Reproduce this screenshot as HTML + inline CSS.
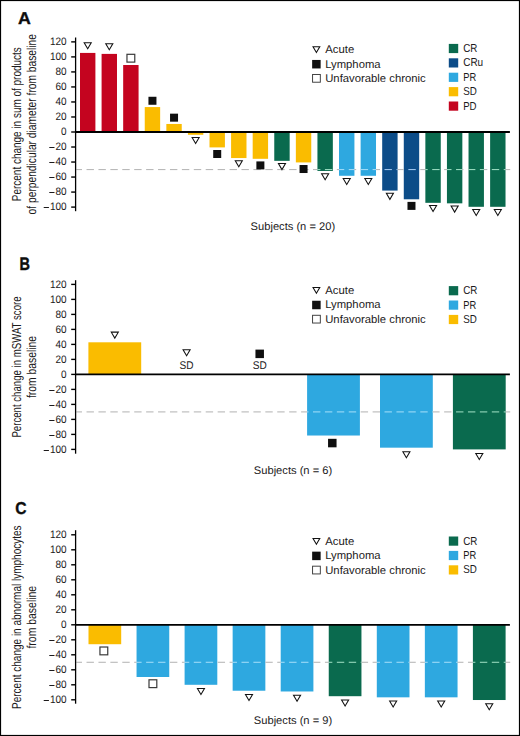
<!DOCTYPE html><html><head><meta charset="utf-8"><style>html,body{margin:0;padding:0;background:#fff}svg{display:block}</style></head><body>
<svg width="520" height="736" viewBox="0 0 520 736" font-family='"Liberation Sans", sans-serif' text-rendering="geometricPrecision">
<rect x="0" y="0" width="520" height="736" fill="#fff"/>
<text transform="translate(18.03,23.82) scale(1.040,1)" x="0" y="0" font-size="17.1" font-weight="bold" fill="#0d0d0d" stroke="#0d0d0d" stroke-width="0.34">A</text>
<rect x="80.00" y="52.92" width="15.4" height="79.08" fill="#c4041f"/>
<rect x="101.59" y="53.90" width="15.4" height="78.10" fill="#c4041f"/>
<rect x="123.17" y="65.01" width="15.4" height="66.99" fill="#c4041f"/>
<rect x="144.75" y="107.07" width="15.4" height="24.93" fill="#fabc00"/>
<rect x="166.34" y="123.96" width="15.4" height="8.04" fill="#fabc00"/>
<rect x="187.93" y="132.00" width="15.4" height="2.78" fill="#fabc00"/>
<rect x="209.51" y="132.00" width="15.4" height="15.40" fill="#fabc00"/>
<rect x="231.09" y="132.00" width="15.4" height="26.06" fill="#fabc00"/>
<rect x="252.68" y="132.00" width="15.4" height="26.81" fill="#fabc00"/>
<rect x="274.26" y="132.00" width="15.4" height="28.84" fill="#0a6a4e"/>
<rect x="295.85" y="132.00" width="15.4" height="30.42" fill="#fabc00"/>
<rect x="317.44" y="132.00" width="15.4" height="38.98" fill="#0a6a4e"/>
<rect x="339.02" y="132.00" width="15.4" height="43.78" fill="#2ea8e0"/>
<rect x="360.61" y="132.00" width="15.4" height="43.78" fill="#2ea8e0"/>
<rect x="382.19" y="132.00" width="15.4" height="58.58" fill="#0c4c88"/>
<rect x="403.78" y="132.00" width="15.4" height="67.29" fill="#0c4c88"/>
<rect x="425.36" y="132.00" width="15.4" height="70.82" fill="#0a6a4e"/>
<rect x="446.94" y="132.00" width="15.4" height="71.34" fill="#0a6a4e"/>
<rect x="468.53" y="132.00" width="15.4" height="74.80" fill="#0a6a4e"/>
<rect x="490.12" y="132.00" width="15.4" height="74.80" fill="#0a6a4e"/>
<line x1="75" y1="132.00" x2="509.9" y2="132.00" stroke="#000" stroke-width="1.85"/>
<rect x="76.30" y="169.00" width="5.70" height="1.1" fill="#b9b9b9"/>
<rect x="86.52" y="169.00" width="7.40" height="1.1" fill="#b9b9b9"/>
<rect x="98.44" y="169.00" width="7.40" height="1.1" fill="#b9b9b9"/>
<rect x="110.36" y="169.00" width="7.40" height="1.1" fill="#b9b9b9"/>
<rect x="122.28" y="169.00" width="7.40" height="1.1" fill="#b9b9b9"/>
<rect x="134.20" y="169.00" width="7.40" height="1.1" fill="#b9b9b9"/>
<rect x="146.12" y="169.00" width="7.40" height="1.1" fill="#b9b9b9"/>
<rect x="158.04" y="169.00" width="7.40" height="1.1" fill="#b9b9b9"/>
<rect x="169.96" y="169.00" width="7.40" height="1.1" fill="#b9b9b9"/>
<rect x="181.88" y="169.00" width="7.40" height="1.1" fill="#b9b9b9"/>
<rect x="193.80" y="169.00" width="7.40" height="1.1" fill="#b9b9b9"/>
<rect x="205.72" y="169.00" width="7.40" height="1.1" fill="#b9b9b9"/>
<rect x="217.64" y="169.00" width="7.40" height="1.1" fill="#b9b9b9"/>
<rect x="229.56" y="169.00" width="7.40" height="1.1" fill="#b9b9b9"/>
<rect x="241.48" y="169.00" width="7.40" height="1.1" fill="#b9b9b9"/>
<rect x="253.40" y="169.00" width="7.40" height="1.1" fill="#b9b9b9"/>
<rect x="265.32" y="169.00" width="7.40" height="1.1" fill="#b9b9b9"/>
<rect x="277.24" y="169.00" width="7.40" height="1.1" fill="#b9b9b9"/>
<rect x="289.16" y="169.00" width="7.40" height="1.1" fill="#b9b9b9"/>
<rect x="301.08" y="169.00" width="7.40" height="1.1" fill="#b9b9b9"/>
<rect x="313.00" y="169.00" width="4.44" height="1.1" fill="#b9b9b9"/>
<rect x="317.44" y="169.00" width="2.96" height="1.1" fill="#95d8bc"/>
<rect x="324.92" y="169.00" width="7.40" height="1.1" fill="#95d8bc"/>
<rect x="336.84" y="169.00" width="2.18" height="1.1" fill="#b9b9b9"/>
<rect x="339.02" y="169.00" width="5.22" height="1.1" fill="#9cdaf7"/>
<rect x="348.76" y="169.00" width="5.66" height="1.1" fill="#9cdaf7"/>
<rect x="354.42" y="169.00" width="1.74" height="1.1" fill="#b9b9b9"/>
<rect x="360.68" y="169.00" width="7.40" height="1.1" fill="#9cdaf7"/>
<rect x="372.60" y="169.00" width="3.40" height="1.1" fill="#9cdaf7"/>
<rect x="376.00" y="169.00" width="4.00" height="1.1" fill="#b9b9b9"/>
<rect x="384.52" y="169.00" width="7.40" height="1.1" fill="#9cc2ec"/>
<rect x="396.44" y="169.00" width="1.15" height="1.1" fill="#9cc2ec"/>
<rect x="397.59" y="169.00" width="6.19" height="1.1" fill="#b9b9b9"/>
<rect x="403.78" y="169.00" width="0.06" height="1.1" fill="#9cc2ec"/>
<rect x="408.36" y="169.00" width="7.40" height="1.1" fill="#9cc2ec"/>
<rect x="420.28" y="169.00" width="5.08" height="1.1" fill="#b9b9b9"/>
<rect x="425.36" y="169.00" width="2.32" height="1.1" fill="#95d8bc"/>
<rect x="432.20" y="169.00" width="7.40" height="1.1" fill="#95d8bc"/>
<rect x="444.12" y="169.00" width="2.82" height="1.1" fill="#b9b9b9"/>
<rect x="446.94" y="169.00" width="4.57" height="1.1" fill="#95d8bc"/>
<rect x="456.04" y="169.00" width="6.31" height="1.1" fill="#95d8bc"/>
<rect x="462.34" y="169.00" width="1.09" height="1.1" fill="#b9b9b9"/>
<rect x="467.96" y="169.00" width="0.57" height="1.1" fill="#b9b9b9"/>
<rect x="468.53" y="169.00" width="6.83" height="1.1" fill="#95d8bc"/>
<rect x="479.88" y="169.00" width="4.05" height="1.1" fill="#95d8bc"/>
<rect x="483.93" y="169.00" width="3.35" height="1.1" fill="#b9b9b9"/>
<rect x="491.80" y="169.00" width="7.40" height="1.1" fill="#95d8bc"/>
<rect x="503.72" y="169.00" width="1.79" height="1.1" fill="#95d8bc"/>
<rect x="505.51" y="169.00" width="4.69" height="1.1" fill="#b9b9b9"/>
<path d="M83.25,42.22L92.15,42.22L87.70,49.82Z" fill="#fff"/>
<path d="M83.25,42.22L92.15,42.22L87.70,49.82Z M85.08,43.27L87.70,47.74L90.32,43.27Z" fill="#111" fill-rule="evenodd"/>
<path d="M104.84,43.20L113.74,43.20L109.29,50.80Z" fill="#fff"/>
<path d="M104.84,43.20L113.74,43.20L109.29,50.80Z M106.67,44.25L109.29,48.72L111.90,44.25Z" fill="#111" fill-rule="evenodd"/>
<rect x="126.97" y="54.31" width="7.80" height="7.80" fill="#fff" stroke="#3a3a3a" stroke-width="1.2"/>
<rect x="148.45" y="96.77" width="8.0" height="8.0" fill="#0f0f0f"/>
<rect x="170.04" y="113.66" width="8.0" height="8.0" fill="#0f0f0f"/>
<path d="M191.18,136.98L200.07,136.98L195.62,144.58Z" fill="#fff"/>
<path d="M191.18,136.98L200.07,136.98L195.62,144.58Z M193.01,138.03L195.62,142.50L198.24,138.03Z" fill="#111" fill-rule="evenodd"/>
<rect x="213.21" y="150.00" width="8.0" height="8.0" fill="#0f0f0f"/>
<path d="M234.34,160.26L243.24,160.26L238.79,167.86Z" fill="#fff"/>
<path d="M234.34,160.26L243.24,160.26L238.79,167.86Z M236.18,161.31L238.79,165.78L241.41,161.31Z" fill="#111" fill-rule="evenodd"/>
<rect x="256.38" y="161.41" width="8.0" height="8.0" fill="#0f0f0f"/>
<path d="M277.51,163.04L286.41,163.04L281.96,170.64Z" fill="#fff"/>
<path d="M277.51,163.04L286.41,163.04L281.96,170.64Z M279.35,164.09L281.96,168.56L284.58,164.09Z" fill="#111" fill-rule="evenodd"/>
<rect x="299.55" y="165.02" width="8.0" height="8.0" fill="#0f0f0f"/>
<path d="M320.69,173.18L329.58,173.18L325.13,180.78Z" fill="#fff"/>
<path d="M320.69,173.18L329.58,173.18L325.13,180.78Z M322.52,174.23L325.13,178.70L327.75,174.23Z" fill="#111" fill-rule="evenodd"/>
<path d="M342.27,177.98L351.17,177.98L346.72,185.58Z" fill="#fff"/>
<path d="M342.27,177.98L351.17,177.98L346.72,185.58Z M344.10,179.03L346.72,183.51L349.34,179.03Z" fill="#111" fill-rule="evenodd"/>
<path d="M363.86,177.98L372.75,177.98L368.31,185.58Z" fill="#fff"/>
<path d="M363.86,177.98L372.75,177.98L368.31,185.58Z M365.69,179.03L368.31,183.51L370.92,179.03Z" fill="#111" fill-rule="evenodd"/>
<path d="M385.44,192.78L394.34,192.78L389.89,200.38Z" fill="#fff"/>
<path d="M385.44,192.78L394.34,192.78L389.89,200.38Z M387.27,193.83L389.89,198.30L392.51,193.83Z" fill="#111" fill-rule="evenodd"/>
<rect x="407.48" y="201.89" width="8.0" height="8.0" fill="#0f0f0f"/>
<path d="M428.61,205.02L437.51,205.02L433.06,212.62Z" fill="#fff"/>
<path d="M428.61,205.02L437.51,205.02L433.06,212.62Z M430.44,206.07L433.06,210.54L435.68,206.07Z" fill="#111" fill-rule="evenodd"/>
<path d="M450.19,205.54L459.09,205.54L454.64,213.14Z" fill="#fff"/>
<path d="M450.19,205.54L459.09,205.54L454.64,213.14Z M452.03,206.59L454.64,211.07L457.26,206.59Z" fill="#111" fill-rule="evenodd"/>
<path d="M471.78,209.00L480.68,209.00L476.23,216.60Z" fill="#fff"/>
<path d="M471.78,209.00L480.68,209.00L476.23,216.60Z M473.61,210.05L476.23,214.52L478.85,210.05Z" fill="#111" fill-rule="evenodd"/>
<path d="M493.37,209.00L502.26,209.00L497.81,216.60Z" fill="#fff"/>
<path d="M493.37,209.00L502.26,209.00L497.81,216.60Z M495.20,210.05L497.81,214.52L500.43,210.05Z" fill="#111" fill-rule="evenodd"/>
<text x="49.92" y="45.18" font-size="10.8" font-weight="normal" fill="#1c1a1b" textLength="16.68" lengthAdjust="spacingAndGlyphs">120</text>
<line x1="71.2" y1="41.88" x2="75.6" y2="41.88" stroke="#000" stroke-width="1.4"/>
<text x="49.92" y="60.20" font-size="10.8" font-weight="normal" fill="#1c1a1b" textLength="16.68" lengthAdjust="spacingAndGlyphs">100</text>
<line x1="71.2" y1="56.90" x2="75.6" y2="56.90" stroke="#000" stroke-width="1.4"/>
<text x="55.48" y="75.22" font-size="10.8" font-weight="normal" fill="#1c1a1b" textLength="11.12" lengthAdjust="spacingAndGlyphs">80</text>
<line x1="71.2" y1="71.92" x2="75.6" y2="71.92" stroke="#000" stroke-width="1.4"/>
<text x="55.48" y="90.24" font-size="10.8" font-weight="normal" fill="#1c1a1b" textLength="11.12" lengthAdjust="spacingAndGlyphs">60</text>
<line x1="71.2" y1="86.94" x2="75.6" y2="86.94" stroke="#000" stroke-width="1.4"/>
<text x="55.48" y="105.26" font-size="10.8" font-weight="normal" fill="#1c1a1b" textLength="11.12" lengthAdjust="spacingAndGlyphs">40</text>
<line x1="71.2" y1="101.96" x2="75.6" y2="101.96" stroke="#000" stroke-width="1.4"/>
<text x="55.48" y="120.28" font-size="10.8" font-weight="normal" fill="#1c1a1b" textLength="11.12" lengthAdjust="spacingAndGlyphs">20</text>
<line x1="71.2" y1="116.98" x2="75.6" y2="116.98" stroke="#000" stroke-width="1.4"/>
<text x="61.04" y="135.30" font-size="10.8" font-weight="normal" fill="#1c1a1b" textLength="5.56" lengthAdjust="spacingAndGlyphs">0</text>
<line x1="71.2" y1="132.00" x2="75.6" y2="132.00" stroke="#000" stroke-width="1.4"/>
<text x="55.48" y="150.32" font-size="10.8" font-weight="normal" fill="#1c1a1b" textLength="11.12" lengthAdjust="spacingAndGlyphs">20</text>
<rect x="49.28" y="147.00" width="5.2" height="1.0" fill="#1c1a1b"/>
<line x1="71.2" y1="147.02" x2="75.6" y2="147.02" stroke="#000" stroke-width="1.4"/>
<text x="55.48" y="165.34" font-size="10.8" font-weight="normal" fill="#1c1a1b" textLength="11.12" lengthAdjust="spacingAndGlyphs">40</text>
<rect x="49.28" y="162.00" width="5.2" height="1.0" fill="#1c1a1b"/>
<line x1="71.2" y1="162.04" x2="75.6" y2="162.04" stroke="#000" stroke-width="1.4"/>
<text x="55.48" y="180.36" font-size="10.8" font-weight="normal" fill="#1c1a1b" textLength="11.12" lengthAdjust="spacingAndGlyphs">60</text>
<rect x="49.28" y="177.00" width="5.2" height="1.0" fill="#1c1a1b"/>
<line x1="71.2" y1="177.06" x2="75.6" y2="177.06" stroke="#000" stroke-width="1.4"/>
<text x="55.48" y="195.38" font-size="10.8" font-weight="normal" fill="#1c1a1b" textLength="11.12" lengthAdjust="spacingAndGlyphs">80</text>
<rect x="49.28" y="192.00" width="5.2" height="1.0" fill="#1c1a1b"/>
<line x1="71.2" y1="192.08" x2="75.6" y2="192.08" stroke="#000" stroke-width="1.4"/>
<text x="49.92" y="210.40" font-size="10.8" font-weight="normal" fill="#1c1a1b" textLength="16.68" lengthAdjust="spacingAndGlyphs">100</text>
<rect x="43.72" y="207.00" width="5.2" height="1.0" fill="#1c1a1b"/>
<line x1="71.2" y1="207.10" x2="75.6" y2="207.10" stroke="#000" stroke-width="1.4"/>
<line x1="75.6" y1="37.5" x2="75.6" y2="211.2" stroke="#000" stroke-width="1.3"/>
<g transform="translate(20.60,124.20) rotate(-90)">
<text x="-77.00" y="0.00" font-size="13.0" font-weight="normal" fill="#1c1a1b" textLength="154.00" lengthAdjust="spacingAndGlyphs">Percent change in sum of products</text>
</g>
<g transform="translate(36.10,124.20) rotate(-90)">
<text x="-90.20" y="0.00" font-size="13.0" font-weight="normal" fill="#1c1a1b" textLength="180.40" lengthAdjust="spacingAndGlyphs">of perpendicular diameter from baseline</text>
</g>
<path d="M312.10,46.20L320.70,46.20L316.40,53.50Z" fill="#fff"/>
<path d="M312.10,46.20L320.70,46.20L316.40,53.50Z M313.94,47.25L316.40,51.43L318.86,47.25Z" fill="#111" fill-rule="evenodd"/>
<text x="325.20" y="53.20" font-size="11.2" font-weight="normal" fill="#1c1a1b" textLength="29.00" lengthAdjust="spacingAndGlyphs">Acute</text>
<rect x="312.15" y="59.95" width="8.5" height="8.5" fill="#0f0f0f"/>
<text x="325.20" y="67.55" font-size="11.2" font-weight="normal" fill="#1c1a1b" textLength="55.40" lengthAdjust="spacingAndGlyphs">Lymphoma</text>
<rect x="312.57" y="74.47" width="7.75" height="7.75" fill="#fff" stroke="#3a3a3a" stroke-width="0.95"/>
<text x="325.20" y="81.90" font-size="11.2" font-weight="normal" fill="#1c1a1b" textLength="100.50" lengthAdjust="spacingAndGlyphs">Unfavorable chronic</text>
<rect x="448.8" y="43.90" width="9.4" height="9.2" fill="#0a6a4e"/>
<text x="463.20" y="51.90" font-size="11.5" font-weight="normal" fill="#1c1a1b" textLength="14.20" lengthAdjust="spacingAndGlyphs">CR</text>
<rect x="448.8" y="58.30" width="9.4" height="9.2" fill="#0c4c88"/>
<text x="463.20" y="66.30" font-size="11.5" font-weight="normal" fill="#1c1a1b" textLength="20.00" lengthAdjust="spacingAndGlyphs">CRu</text>
<rect x="448.8" y="72.70" width="9.4" height="9.2" fill="#2ea8e0"/>
<text x="463.20" y="80.70" font-size="11.5" font-weight="normal" fill="#1c1a1b" textLength="13.00" lengthAdjust="spacingAndGlyphs">PR</text>
<rect x="448.8" y="87.10" width="9.4" height="9.2" fill="#fabc00"/>
<text x="463.20" y="95.10" font-size="11.5" font-weight="normal" fill="#1c1a1b" textLength="13.60" lengthAdjust="spacingAndGlyphs">SD</text>
<rect x="448.8" y="101.50" width="9.4" height="9.2" fill="#c4041f"/>
<text x="463.20" y="109.50" font-size="11.5" font-weight="normal" fill="#1c1a1b" textLength="13.40" lengthAdjust="spacingAndGlyphs">PD</text>
<text x="250.60" y="229.80" font-size="11.0" font-weight="normal" fill="#1c1a1b" textLength="84.50" lengthAdjust="spacingAndGlyphs">Subjects (n = 20)</text>
<text transform="translate(19.40,270.22) scale(0.800,1)" x="0" y="0" font-size="18.1" font-weight="bold" fill="#0d0d0d" stroke="#0d0d0d" stroke-width="0.44">B</text>
<rect x="88.40" y="342.30" width="52.8" height="32.10" fill="#fabc00"/>
<text x="179.60" y="368.50" font-size="11.2" font-weight="normal" fill="#1c1a1b" textLength="14.00" lengthAdjust="spacingAndGlyphs">SD</text>
<text x="252.70" y="368.50" font-size="11.2" font-weight="normal" fill="#1c1a1b" textLength="14.00" lengthAdjust="spacingAndGlyphs">SD</text>
<rect x="307.10" y="374.40" width="52.8" height="61.12" fill="#2ea8e0"/>
<rect x="380.00" y="374.40" width="52.8" height="73.28" fill="#2ea8e0"/>
<rect x="452.90" y="374.40" width="52.8" height="75.00" fill="#0a6a4e"/>
<line x1="75" y1="374.40" x2="509.9" y2="374.40" stroke="#000" stroke-width="1.85"/>
<rect x="76.30" y="411.35" width="5.70" height="1.1" fill="#b9b9b9"/>
<rect x="86.52" y="411.35" width="7.40" height="1.1" fill="#b9b9b9"/>
<rect x="98.44" y="411.35" width="7.40" height="1.1" fill="#b9b9b9"/>
<rect x="110.36" y="411.35" width="7.40" height="1.1" fill="#b9b9b9"/>
<rect x="122.28" y="411.35" width="7.40" height="1.1" fill="#b9b9b9"/>
<rect x="134.20" y="411.35" width="7.40" height="1.1" fill="#b9b9b9"/>
<rect x="146.12" y="411.35" width="7.40" height="1.1" fill="#b9b9b9"/>
<rect x="158.04" y="411.35" width="7.40" height="1.1" fill="#b9b9b9"/>
<rect x="169.96" y="411.35" width="7.40" height="1.1" fill="#b9b9b9"/>
<rect x="181.88" y="411.35" width="7.40" height="1.1" fill="#b9b9b9"/>
<rect x="193.80" y="411.35" width="7.40" height="1.1" fill="#b9b9b9"/>
<rect x="205.72" y="411.35" width="7.40" height="1.1" fill="#b9b9b9"/>
<rect x="217.64" y="411.35" width="7.40" height="1.1" fill="#b9b9b9"/>
<rect x="229.56" y="411.35" width="7.40" height="1.1" fill="#b9b9b9"/>
<rect x="241.48" y="411.35" width="7.40" height="1.1" fill="#b9b9b9"/>
<rect x="253.40" y="411.35" width="7.40" height="1.1" fill="#b9b9b9"/>
<rect x="265.32" y="411.35" width="7.40" height="1.1" fill="#b9b9b9"/>
<rect x="277.24" y="411.35" width="7.40" height="1.1" fill="#b9b9b9"/>
<rect x="289.16" y="411.35" width="7.40" height="1.1" fill="#b9b9b9"/>
<rect x="301.08" y="411.35" width="6.02" height="1.1" fill="#b9b9b9"/>
<rect x="307.10" y="411.35" width="1.38" height="1.1" fill="#9cdaf7"/>
<rect x="313.00" y="411.35" width="7.40" height="1.1" fill="#9cdaf7"/>
<rect x="324.92" y="411.35" width="7.40" height="1.1" fill="#9cdaf7"/>
<rect x="336.84" y="411.35" width="7.40" height="1.1" fill="#9cdaf7"/>
<rect x="348.76" y="411.35" width="7.40" height="1.1" fill="#9cdaf7"/>
<rect x="360.68" y="411.35" width="7.40" height="1.1" fill="#b9b9b9"/>
<rect x="372.60" y="411.35" width="7.40" height="1.1" fill="#b9b9b9"/>
<rect x="384.52" y="411.35" width="7.40" height="1.1" fill="#9cdaf7"/>
<rect x="396.44" y="411.35" width="7.40" height="1.1" fill="#9cdaf7"/>
<rect x="408.36" y="411.35" width="7.40" height="1.1" fill="#9cdaf7"/>
<rect x="420.28" y="411.35" width="7.40" height="1.1" fill="#9cdaf7"/>
<rect x="432.20" y="411.35" width="0.60" height="1.1" fill="#9cdaf7"/>
<rect x="432.80" y="411.35" width="6.80" height="1.1" fill="#b9b9b9"/>
<rect x="444.12" y="411.35" width="7.40" height="1.1" fill="#b9b9b9"/>
<rect x="456.04" y="411.35" width="7.40" height="1.1" fill="#95d8bc"/>
<rect x="467.96" y="411.35" width="7.40" height="1.1" fill="#95d8bc"/>
<rect x="479.88" y="411.35" width="7.40" height="1.1" fill="#95d8bc"/>
<rect x="491.80" y="411.35" width="7.40" height="1.1" fill="#95d8bc"/>
<rect x="503.72" y="411.35" width="1.98" height="1.1" fill="#95d8bc"/>
<rect x="505.70" y="411.35" width="4.50" height="1.1" fill="#b9b9b9"/>
<path d="M110.35,331.60L119.25,331.60L114.80,339.20Z" fill="#fff"/>
<path d="M110.35,331.60L119.25,331.60L114.80,339.20Z M112.18,332.65L114.80,337.12L117.42,332.65Z" fill="#111" fill-rule="evenodd"/>
<path d="M182.15,349.20L191.05,349.20L186.60,356.80Z" fill="#fff"/>
<path d="M182.15,349.20L191.05,349.20L186.60,356.80Z M183.98,350.25L186.60,354.72L189.22,350.25Z" fill="#111" fill-rule="evenodd"/>
<rect x="255.45" y="349.60" width="8.5" height="8.5" fill="#0f0f0f"/>
<rect x="328.05" y="438.82" width="8.5" height="8.5" fill="#0f0f0f"/>
<path d="M401.95,451.17L410.85,451.17L406.40,458.77Z" fill="#fff"/>
<path d="M401.95,451.17L410.85,451.17L406.40,458.77Z M403.78,452.22L406.40,456.70L409.02,452.22Z" fill="#111" fill-rule="evenodd"/>
<path d="M474.85,452.90L483.75,452.90L479.30,460.50Z" fill="#fff"/>
<path d="M474.85,452.90L483.75,452.90L479.30,460.50Z M476.68,453.95L479.30,458.42L481.92,453.95Z" fill="#111" fill-rule="evenodd"/>
<text x="49.92" y="287.70" font-size="10.8" font-weight="normal" fill="#1c1a1b" textLength="16.68" lengthAdjust="spacingAndGlyphs">120</text>
<line x1="71.2" y1="284.40" x2="75.6" y2="284.40" stroke="#000" stroke-width="1.4"/>
<text x="49.92" y="302.70" font-size="10.8" font-weight="normal" fill="#1c1a1b" textLength="16.68" lengthAdjust="spacingAndGlyphs">100</text>
<line x1="71.2" y1="299.40" x2="75.6" y2="299.40" stroke="#000" stroke-width="1.4"/>
<text x="55.48" y="317.70" font-size="10.8" font-weight="normal" fill="#1c1a1b" textLength="11.12" lengthAdjust="spacingAndGlyphs">80</text>
<line x1="71.2" y1="314.40" x2="75.6" y2="314.40" stroke="#000" stroke-width="1.4"/>
<text x="55.48" y="332.70" font-size="10.8" font-weight="normal" fill="#1c1a1b" textLength="11.12" lengthAdjust="spacingAndGlyphs">60</text>
<line x1="71.2" y1="329.40" x2="75.6" y2="329.40" stroke="#000" stroke-width="1.4"/>
<text x="55.48" y="347.70" font-size="10.8" font-weight="normal" fill="#1c1a1b" textLength="11.12" lengthAdjust="spacingAndGlyphs">40</text>
<line x1="71.2" y1="344.40" x2="75.6" y2="344.40" stroke="#000" stroke-width="1.4"/>
<text x="55.48" y="362.70" font-size="10.8" font-weight="normal" fill="#1c1a1b" textLength="11.12" lengthAdjust="spacingAndGlyphs">20</text>
<line x1="71.2" y1="359.40" x2="75.6" y2="359.40" stroke="#000" stroke-width="1.4"/>
<text x="61.04" y="377.70" font-size="10.8" font-weight="normal" fill="#1c1a1b" textLength="5.56" lengthAdjust="spacingAndGlyphs">0</text>
<line x1="71.2" y1="374.40" x2="75.6" y2="374.40" stroke="#000" stroke-width="1.4"/>
<text x="55.48" y="392.70" font-size="10.8" font-weight="normal" fill="#1c1a1b" textLength="11.12" lengthAdjust="spacingAndGlyphs">20</text>
<rect x="49.28" y="390.00" width="5.2" height="1.0" fill="#1c1a1b"/>
<line x1="71.2" y1="389.40" x2="75.6" y2="389.40" stroke="#000" stroke-width="1.4"/>
<text x="55.48" y="407.70" font-size="10.8" font-weight="normal" fill="#1c1a1b" textLength="11.12" lengthAdjust="spacingAndGlyphs">40</text>
<rect x="49.28" y="405.00" width="5.2" height="1.0" fill="#1c1a1b"/>
<line x1="71.2" y1="404.40" x2="75.6" y2="404.40" stroke="#000" stroke-width="1.4"/>
<text x="55.48" y="422.70" font-size="10.8" font-weight="normal" fill="#1c1a1b" textLength="11.12" lengthAdjust="spacingAndGlyphs">60</text>
<rect x="49.28" y="420.00" width="5.2" height="1.0" fill="#1c1a1b"/>
<line x1="71.2" y1="419.40" x2="75.6" y2="419.40" stroke="#000" stroke-width="1.4"/>
<text x="55.48" y="437.70" font-size="10.8" font-weight="normal" fill="#1c1a1b" textLength="11.12" lengthAdjust="spacingAndGlyphs">80</text>
<rect x="49.28" y="435.00" width="5.2" height="1.0" fill="#1c1a1b"/>
<line x1="71.2" y1="434.40" x2="75.6" y2="434.40" stroke="#000" stroke-width="1.4"/>
<text x="49.92" y="452.70" font-size="10.8" font-weight="normal" fill="#1c1a1b" textLength="16.68" lengthAdjust="spacingAndGlyphs">100</text>
<rect x="43.72" y="450.00" width="5.2" height="1.0" fill="#1c1a1b"/>
<line x1="71.2" y1="449.40" x2="75.6" y2="449.40" stroke="#000" stroke-width="1.4"/>
<line x1="75.6" y1="280.2" x2="75.6" y2="453.7" stroke="#000" stroke-width="1.3"/>
<g transform="translate(20.80,367.00) rotate(-90)">
<text x="-70.55" y="0.00" font-size="13.0" font-weight="normal" fill="#1c1a1b" textLength="141.10" lengthAdjust="spacingAndGlyphs">Percent change in mSWAT score</text>
</g>
<g transform="translate(36.20,367.00) rotate(-90)">
<text x="-31.00" y="0.00" font-size="13.0" font-weight="normal" fill="#1c1a1b" textLength="62.00" lengthAdjust="spacingAndGlyphs">from baseline</text>
</g>
<path d="M312.10,287.00L320.70,287.00L316.40,294.30Z" fill="#fff"/>
<path d="M312.10,287.00L320.70,287.00L316.40,294.30Z M313.94,288.05L316.40,292.23L318.86,288.05Z" fill="#111" fill-rule="evenodd"/>
<text x="325.20" y="294.00" font-size="11.2" font-weight="normal" fill="#1c1a1b" textLength="29.00" lengthAdjust="spacingAndGlyphs">Acute</text>
<rect x="312.15" y="300.75" width="8.5" height="8.5" fill="#0f0f0f"/>
<text x="325.20" y="308.35" font-size="11.2" font-weight="normal" fill="#1c1a1b" textLength="55.40" lengthAdjust="spacingAndGlyphs">Lymphoma</text>
<rect x="312.57" y="315.28" width="7.75" height="7.75" fill="#fff" stroke="#3a3a3a" stroke-width="0.95"/>
<text x="325.20" y="322.70" font-size="11.2" font-weight="normal" fill="#1c1a1b" textLength="100.50" lengthAdjust="spacingAndGlyphs">Unfavorable chronic</text>
<rect x="448.8" y="286.10" width="9.4" height="9.2" fill="#0a6a4e"/>
<text x="463.20" y="294.10" font-size="11.5" font-weight="normal" fill="#1c1a1b" textLength="14.20" lengthAdjust="spacingAndGlyphs">CR</text>
<rect x="448.8" y="300.50" width="9.4" height="9.2" fill="#2ea8e0"/>
<text x="463.20" y="308.50" font-size="11.5" font-weight="normal" fill="#1c1a1b" textLength="13.00" lengthAdjust="spacingAndGlyphs">PR</text>
<rect x="448.8" y="314.90" width="9.4" height="9.2" fill="#fabc00"/>
<text x="463.20" y="322.90" font-size="11.5" font-weight="normal" fill="#1c1a1b" textLength="13.60" lengthAdjust="spacingAndGlyphs">SD</text>
<text x="253.80" y="473.70" font-size="11.0" font-weight="normal" fill="#1c1a1b" textLength="78.40" lengthAdjust="spacingAndGlyphs">Subjects (n = 6)</text>
<text transform="translate(15.13,514.17) scale(0.910,1)" x="0" y="0" font-size="17.2" font-weight="bold" fill="#0d0d0d" stroke="#0d0d0d" stroke-width="0.38">C</text>
<rect x="88.50" y="624.80" width="32.7" height="19.42" fill="#fabc00"/>
<rect x="136.55" y="624.80" width="32.7" height="52.20" fill="#2ea8e0"/>
<rect x="184.60" y="624.80" width="32.7" height="60.00" fill="#2ea8e0"/>
<rect x="232.65" y="624.80" width="32.7" height="65.93" fill="#2ea8e0"/>
<rect x="280.70" y="624.80" width="32.7" height="66.68" fill="#2ea8e0"/>
<rect x="328.75" y="624.80" width="32.7" height="71.40" fill="#0a6a4e"/>
<rect x="376.80" y="624.80" width="32.7" height="72.53" fill="#2ea8e0"/>
<rect x="424.85" y="624.80" width="32.7" height="72.53" fill="#2ea8e0"/>
<rect x="472.90" y="624.80" width="32.7" height="75.22" fill="#0a6a4e"/>
<line x1="75" y1="624.80" x2="509.9" y2="624.80" stroke="#000" stroke-width="1.85"/>
<rect x="76.30" y="661.75" width="5.70" height="1.1" fill="#b9b9b9"/>
<rect x="86.52" y="661.75" width="7.40" height="1.1" fill="#b9b9b9"/>
<rect x="98.44" y="661.75" width="7.40" height="1.1" fill="#b9b9b9"/>
<rect x="110.36" y="661.75" width="7.40" height="1.1" fill="#b9b9b9"/>
<rect x="122.28" y="661.75" width="7.40" height="1.1" fill="#b9b9b9"/>
<rect x="134.20" y="661.75" width="2.35" height="1.1" fill="#b9b9b9"/>
<rect x="136.55" y="661.75" width="5.05" height="1.1" fill="#9cdaf7"/>
<rect x="146.12" y="661.75" width="7.40" height="1.1" fill="#9cdaf7"/>
<rect x="158.04" y="661.75" width="7.40" height="1.1" fill="#9cdaf7"/>
<rect x="169.96" y="661.75" width="7.40" height="1.1" fill="#b9b9b9"/>
<rect x="181.88" y="661.75" width="2.72" height="1.1" fill="#b9b9b9"/>
<rect x="184.60" y="661.75" width="4.68" height="1.1" fill="#9cdaf7"/>
<rect x="193.80" y="661.75" width="7.40" height="1.1" fill="#9cdaf7"/>
<rect x="205.72" y="661.75" width="7.40" height="1.1" fill="#9cdaf7"/>
<rect x="217.64" y="661.75" width="7.40" height="1.1" fill="#b9b9b9"/>
<rect x="229.56" y="661.75" width="3.09" height="1.1" fill="#b9b9b9"/>
<rect x="232.65" y="661.75" width="4.31" height="1.1" fill="#9cdaf7"/>
<rect x="241.48" y="661.75" width="7.40" height="1.1" fill="#9cdaf7"/>
<rect x="253.40" y="661.75" width="7.40" height="1.1" fill="#9cdaf7"/>
<rect x="265.32" y="661.75" width="0.03" height="1.1" fill="#9cdaf7"/>
<rect x="265.35" y="661.75" width="7.37" height="1.1" fill="#b9b9b9"/>
<rect x="277.24" y="661.75" width="3.46" height="1.1" fill="#b9b9b9"/>
<rect x="280.70" y="661.75" width="3.94" height="1.1" fill="#9cdaf7"/>
<rect x="289.16" y="661.75" width="7.40" height="1.1" fill="#9cdaf7"/>
<rect x="301.08" y="661.75" width="7.40" height="1.1" fill="#9cdaf7"/>
<rect x="313.00" y="661.75" width="0.40" height="1.1" fill="#9cdaf7"/>
<rect x="313.40" y="661.75" width="7.00" height="1.1" fill="#b9b9b9"/>
<rect x="324.92" y="661.75" width="3.83" height="1.1" fill="#b9b9b9"/>
<rect x="328.75" y="661.75" width="3.57" height="1.1" fill="#95d8bc"/>
<rect x="336.84" y="661.75" width="7.40" height="1.1" fill="#95d8bc"/>
<rect x="348.76" y="661.75" width="7.40" height="1.1" fill="#95d8bc"/>
<rect x="360.68" y="661.75" width="0.77" height="1.1" fill="#95d8bc"/>
<rect x="361.45" y="661.75" width="6.63" height="1.1" fill="#b9b9b9"/>
<rect x="372.60" y="661.75" width="4.20" height="1.1" fill="#b9b9b9"/>
<rect x="376.80" y="661.75" width="3.20" height="1.1" fill="#9cdaf7"/>
<rect x="384.52" y="661.75" width="7.40" height="1.1" fill="#9cdaf7"/>
<rect x="396.44" y="661.75" width="7.40" height="1.1" fill="#9cdaf7"/>
<rect x="408.36" y="661.75" width="1.14" height="1.1" fill="#9cdaf7"/>
<rect x="409.50" y="661.75" width="6.26" height="1.1" fill="#b9b9b9"/>
<rect x="420.28" y="661.75" width="4.57" height="1.1" fill="#b9b9b9"/>
<rect x="424.85" y="661.75" width="2.83" height="1.1" fill="#9cdaf7"/>
<rect x="432.20" y="661.75" width="7.40" height="1.1" fill="#9cdaf7"/>
<rect x="444.12" y="661.75" width="7.40" height="1.1" fill="#9cdaf7"/>
<rect x="456.04" y="661.75" width="1.51" height="1.1" fill="#9cdaf7"/>
<rect x="457.55" y="661.75" width="5.89" height="1.1" fill="#b9b9b9"/>
<rect x="467.96" y="661.75" width="4.94" height="1.1" fill="#b9b9b9"/>
<rect x="472.90" y="661.75" width="2.46" height="1.1" fill="#95d8bc"/>
<rect x="479.88" y="661.75" width="7.40" height="1.1" fill="#95d8bc"/>
<rect x="491.80" y="661.75" width="7.40" height="1.1" fill="#95d8bc"/>
<rect x="503.72" y="661.75" width="1.88" height="1.1" fill="#95d8bc"/>
<rect x="505.60" y="661.75" width="4.60" height="1.1" fill="#b9b9b9"/>
<rect x="99.95" y="647.02" width="7.80" height="7.80" fill="#fff" stroke="#3a3a3a" stroke-width="1.2"/>
<rect x="149.00" y="679.80" width="7.80" height="7.80" fill="#fff" stroke="#3a3a3a" stroke-width="1.2"/>
<path d="M196.50,688.00L205.40,688.00L200.95,695.60Z" fill="#fff"/>
<path d="M196.50,688.00L205.40,688.00L200.95,695.60Z M198.33,689.05L200.95,693.52L203.57,689.05Z" fill="#111" fill-rule="evenodd"/>
<path d="M244.55,693.92L253.45,693.92L249.00,701.52Z" fill="#fff"/>
<path d="M244.55,693.92L253.45,693.92L249.00,701.52Z M246.38,694.97L249.00,699.45L251.62,694.97Z" fill="#111" fill-rule="evenodd"/>
<path d="M292.60,694.67L301.50,694.67L297.05,702.27Z" fill="#fff"/>
<path d="M292.60,694.67L301.50,694.67L297.05,702.27Z M294.43,695.72L297.05,700.20L299.67,695.72Z" fill="#111" fill-rule="evenodd"/>
<path d="M340.65,699.40L349.55,699.40L345.10,707.00Z" fill="#fff"/>
<path d="M340.65,699.40L349.55,699.40L345.10,707.00Z M342.48,700.45L345.10,704.92L347.72,700.45Z" fill="#111" fill-rule="evenodd"/>
<path d="M388.70,700.52L397.60,700.52L393.15,708.12Z" fill="#fff"/>
<path d="M388.70,700.52L397.60,700.52L393.15,708.12Z M390.53,701.57L393.15,706.05L395.77,701.57Z" fill="#111" fill-rule="evenodd"/>
<path d="M436.75,700.52L445.65,700.52L441.20,708.12Z" fill="#fff"/>
<path d="M436.75,700.52L445.65,700.52L441.20,708.12Z M438.58,701.57L441.20,706.05L443.82,701.57Z" fill="#111" fill-rule="evenodd"/>
<path d="M484.80,703.23L493.70,703.23L489.25,710.83Z" fill="#fff"/>
<path d="M484.80,703.23L493.70,703.23L489.25,710.83Z M486.63,704.27L489.25,708.75L491.87,704.27Z" fill="#111" fill-rule="evenodd"/>
<text x="49.92" y="538.10" font-size="10.8" font-weight="normal" fill="#1c1a1b" textLength="16.68" lengthAdjust="spacingAndGlyphs">120</text>
<line x1="71.2" y1="534.80" x2="75.6" y2="534.80" stroke="#000" stroke-width="1.4"/>
<text x="49.92" y="553.10" font-size="10.8" font-weight="normal" fill="#1c1a1b" textLength="16.68" lengthAdjust="spacingAndGlyphs">100</text>
<line x1="71.2" y1="549.80" x2="75.6" y2="549.80" stroke="#000" stroke-width="1.4"/>
<text x="55.48" y="568.10" font-size="10.8" font-weight="normal" fill="#1c1a1b" textLength="11.12" lengthAdjust="spacingAndGlyphs">80</text>
<line x1="71.2" y1="564.80" x2="75.6" y2="564.80" stroke="#000" stroke-width="1.4"/>
<text x="55.48" y="583.10" font-size="10.8" font-weight="normal" fill="#1c1a1b" textLength="11.12" lengthAdjust="spacingAndGlyphs">60</text>
<line x1="71.2" y1="579.80" x2="75.6" y2="579.80" stroke="#000" stroke-width="1.4"/>
<text x="55.48" y="598.10" font-size="10.8" font-weight="normal" fill="#1c1a1b" textLength="11.12" lengthAdjust="spacingAndGlyphs">40</text>
<line x1="71.2" y1="594.80" x2="75.6" y2="594.80" stroke="#000" stroke-width="1.4"/>
<text x="55.48" y="613.10" font-size="10.8" font-weight="normal" fill="#1c1a1b" textLength="11.12" lengthAdjust="spacingAndGlyphs">20</text>
<line x1="71.2" y1="609.80" x2="75.6" y2="609.80" stroke="#000" stroke-width="1.4"/>
<text x="61.04" y="628.10" font-size="10.8" font-weight="normal" fill="#1c1a1b" textLength="5.56" lengthAdjust="spacingAndGlyphs">0</text>
<line x1="71.2" y1="624.80" x2="75.6" y2="624.80" stroke="#000" stroke-width="1.4"/>
<text x="55.48" y="643.10" font-size="10.8" font-weight="normal" fill="#1c1a1b" textLength="11.12" lengthAdjust="spacingAndGlyphs">20</text>
<rect x="49.28" y="640.00" width="5.2" height="1.0" fill="#1c1a1b"/>
<line x1="71.2" y1="639.80" x2="75.6" y2="639.80" stroke="#000" stroke-width="1.4"/>
<text x="55.48" y="658.10" font-size="10.8" font-weight="normal" fill="#1c1a1b" textLength="11.12" lengthAdjust="spacingAndGlyphs">40</text>
<rect x="49.28" y="655.00" width="5.2" height="1.0" fill="#1c1a1b"/>
<line x1="71.2" y1="654.80" x2="75.6" y2="654.80" stroke="#000" stroke-width="1.4"/>
<text x="55.48" y="673.10" font-size="10.8" font-weight="normal" fill="#1c1a1b" textLength="11.12" lengthAdjust="spacingAndGlyphs">60</text>
<rect x="49.28" y="670.00" width="5.2" height="1.0" fill="#1c1a1b"/>
<line x1="71.2" y1="669.80" x2="75.6" y2="669.80" stroke="#000" stroke-width="1.4"/>
<text x="55.48" y="688.10" font-size="10.8" font-weight="normal" fill="#1c1a1b" textLength="11.12" lengthAdjust="spacingAndGlyphs">80</text>
<rect x="49.28" y="685.00" width="5.2" height="1.0" fill="#1c1a1b"/>
<line x1="71.2" y1="684.80" x2="75.6" y2="684.80" stroke="#000" stroke-width="1.4"/>
<text x="49.92" y="703.10" font-size="10.8" font-weight="normal" fill="#1c1a1b" textLength="16.68" lengthAdjust="spacingAndGlyphs">100</text>
<rect x="43.72" y="700.00" width="5.2" height="1.0" fill="#1c1a1b"/>
<line x1="71.2" y1="699.80" x2="75.6" y2="699.80" stroke="#000" stroke-width="1.4"/>
<line x1="75.6" y1="530.2" x2="75.6" y2="703.7" stroke="#000" stroke-width="1.3"/>
<g transform="translate(20.80,617.20) rotate(-90)">
<text x="-91.80" y="0.00" font-size="13.0" font-weight="normal" fill="#1c1a1b" textLength="183.60" lengthAdjust="spacingAndGlyphs">Percent change in abnormal lymphocytes</text>
</g>
<g transform="translate(36.20,617.20) rotate(-90)">
<text x="-31.35" y="0.00" font-size="13.0" font-weight="normal" fill="#1c1a1b" textLength="62.70" lengthAdjust="spacingAndGlyphs">from baseline</text>
</g>
<path d="M312.10,537.90L320.70,537.90L316.40,545.20Z" fill="#fff"/>
<path d="M312.10,537.90L320.70,537.90L316.40,545.20Z M313.94,538.95L316.40,543.13L318.86,538.95Z" fill="#111" fill-rule="evenodd"/>
<text x="325.20" y="544.90" font-size="11.2" font-weight="normal" fill="#1c1a1b" textLength="29.00" lengthAdjust="spacingAndGlyphs">Acute</text>
<rect x="312.15" y="551.65" width="8.5" height="8.5" fill="#0f0f0f"/>
<text x="325.20" y="559.25" font-size="11.2" font-weight="normal" fill="#1c1a1b" textLength="55.40" lengthAdjust="spacingAndGlyphs">Lymphoma</text>
<rect x="312.57" y="566.18" width="7.75" height="7.75" fill="#fff" stroke="#3a3a3a" stroke-width="0.95"/>
<text x="325.20" y="573.60" font-size="11.2" font-weight="normal" fill="#1c1a1b" textLength="100.50" lengthAdjust="spacingAndGlyphs">Unfavorable chronic</text>
<rect x="448.8" y="536.50" width="9.4" height="9.2" fill="#0a6a4e"/>
<text x="463.20" y="544.50" font-size="11.5" font-weight="normal" fill="#1c1a1b" textLength="14.20" lengthAdjust="spacingAndGlyphs">CR</text>
<rect x="448.8" y="550.90" width="9.4" height="9.2" fill="#2ea8e0"/>
<text x="463.20" y="558.90" font-size="11.5" font-weight="normal" fill="#1c1a1b" textLength="13.00" lengthAdjust="spacingAndGlyphs">PR</text>
<rect x="448.8" y="565.30" width="9.4" height="9.2" fill="#fabc00"/>
<text x="463.20" y="573.30" font-size="11.5" font-weight="normal" fill="#1c1a1b" textLength="13.60" lengthAdjust="spacingAndGlyphs">SD</text>
<text x="253.80" y="723.60" font-size="11.0" font-weight="normal" fill="#1c1a1b" textLength="78.40" lengthAdjust="spacingAndGlyphs">Subjects (n = 9)</text>
<rect x="0.5" y="0.5" width="519" height="735" fill="none" stroke="#000" stroke-width="1.2"/>
</svg></body></html>
